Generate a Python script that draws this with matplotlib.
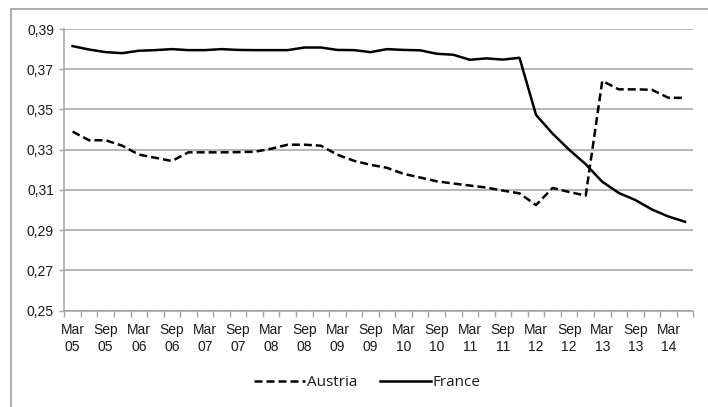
import matplotlib
matplotlib.use('Agg')
import matplotlib.pyplot as plt
from matplotlib.ticker import FixedLocator, FuncFormatter
from matplotlib.patches import Rectangle
import numpy as np

## DATA (quarterly, Mar 05 .. Jun 14)

quarters = ['Mar', 'Jun', 'Sep', 'Dec']
years = ['05', '06', '07', '08', '09', '10', '11', '12', '13', '14']
categories = [q + '\n' + y for y in years for q in quarters][:38]

austria = [0.3390, 0.3347, 0.3347, 0.3320, 0.3276, 0.3260, 0.3244, 0.3287, 0.3287, 0.3287,
           0.3288, 0.3290, 0.3305, 0.3325, 0.3325, 0.3320, 0.3275, 0.3245, 0.3225, 0.3210,
           0.3180, 0.3162, 0.3143, 0.3132, 0.3122, 0.3112, 0.3097, 0.3083, 0.3025, 0.3110,
           0.3090, 0.3072, 0.3642, 0.3600, 0.3600, 0.3598, 0.3558, 0.3558]

france = [0.3815, 0.3798, 0.3785, 0.3780, 0.3792, 0.3795, 0.3800, 0.3795, 0.3795, 0.3800,
          0.3796, 0.3795, 0.3795, 0.3795, 0.3808, 0.3808, 0.3796, 0.3795, 0.3785, 0.3800,
          0.3796, 0.3794, 0.3777, 0.3772, 0.3747, 0.3754, 0.3748, 0.3757, 0.3473, 0.3380,
          0.3300, 0.3228, 0.3141, 0.3085, 0.3050, 0.3003, 0.2968, 0.2942]

yticks = [0.25, 0.27, 0.29, 0.31, 0.33, 0.35, 0.37, 0.39]

## FIGURE

plt.rcParams['font.family'] = ['Liberation Sans', 'DejaVu Sans']
txt = '#1a1a1a'
grid = '#a3a3a3'

fig = plt.figure(figsize=(7.08, 4.07), dpi=100)
ax = fig.add_axes([64.3 / 708, 1 - 310.7 / 407, (693.3 - 64.3) / 708, (310.7 - 29) / 407])

# outer chart border (only top and left visible in the crop)
fig.patches.append(Rectangle((11 / 708, -0.1), 1.2, 1.1 - 9 / 407, transform=fig.transFigure,
                             fill=False, edgecolor='#a0a0a0', linewidth=1.2))

x = np.arange(len(categories))
ax.plot(x, austria, color='black', linewidth=1.8, dashes=(3.2, 1.6), label='Austria')
ax.plot(x, france, color='black', linewidth=1.8, label='France')

ax.set_xlim(-0.5, len(categories) - 0.5)
ax.set_ylim(0.25, 0.39)

ax.set_yticks(yticks)
ax.yaxis.set_major_formatter(FuncFormatter(lambda v, p: f'{v:.2f}'.replace('.', ',')))
ax.yaxis.grid(True, color=grid, linewidth=1.1)
ax.set_axisbelow(True)

ax.xaxis.set_major_locator(FixedLocator(x[::2]))
ax.set_xticklabels(categories[::2], linespacing=1.25)
ax.xaxis.set_minor_locator(FixedLocator(np.arange(-0.5, len(categories), 1.0)))

ax.tick_params(axis='x', which='major', length=0, pad=9, labelsize=10, labelcolor=txt)
ax.tick_params(axis='x', which='minor', length=4, width=1, color=grid)
ax.tick_params(axis='y', length=3.5, width=1, color=grid, pad=4, labelsize=10, labelcolor=txt)

for s in ['top', 'right']:
    ax.spines[s].set_visible(False)
for s in ['left', 'bottom']:
    ax.spines[s].set_color(grid)
    ax.spines[s].set_linewidth(1.1)

fig.legend(loc='center', bbox_to_anchor=(367.5 / 708, 24 / 407), ncol=2, frameon=False,
           handlelength=3.3, handletextpad=0.15, columnspacing=1.5,
           prop={'family': 'Open Sans', 'size': 11}, labelcolor=txt)

fig.savefig('out.png', dpi=100)
